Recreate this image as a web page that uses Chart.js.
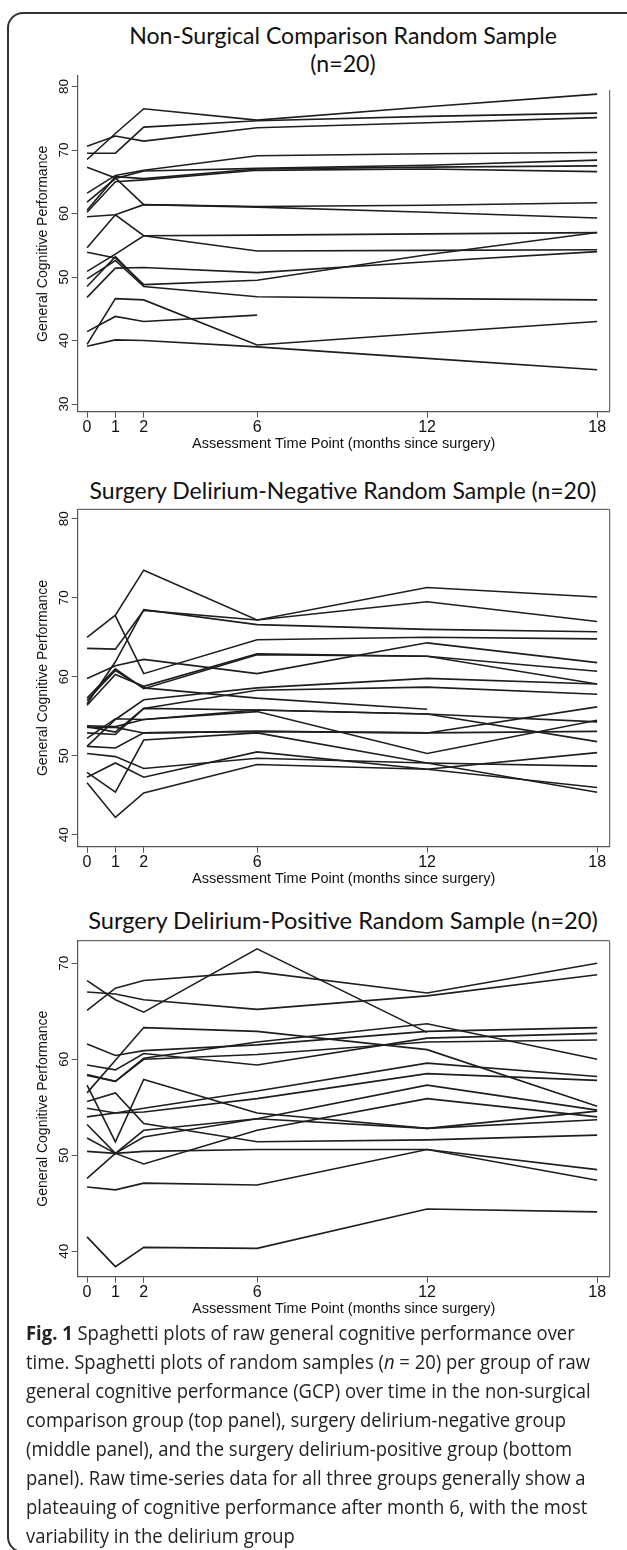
<!DOCTYPE html>
<html><head><meta charset="utf-8">
<script src="https://cdn.jsdelivr.net/npm/chart.js@4.4.1/dist/chart.umd.min.js"></script>
<style>
html,body{margin:0;padding:0;background:#fff;}
body{width:627px;height:1550px;position:relative;overflow:hidden;font-family:"Liberation Sans",Arial,sans-serif;}
.frame{position:absolute;left:7px;top:12px;width:680px;height:1541px;border:2px solid #333;border-radius:16px;box-sizing:border-box;}
.ptitle{position:absolute;left:0;width:686px;text-align:center;font-family:Lato,"Open Sans",sans-serif;font-size:22px;color:#111;line-height:28px;white-space:nowrap;}
.ptitle span{display:inline-block;}
canvas{position:absolute;left:0;}
.cap{position:absolute;left:26px;font-family:"Open Sans",sans-serif;font-size:19.5px;color:#222;white-space:nowrap;transform-origin:0 50%;line-height:29px;}
</style></head>
<body>
<div class="frame"></div>
<div class="ptitle" id="t1a" style="top:21px;"><span>Non-Surgical Comparison Random Sample</span></div>
<div class="ptitle" id="t1b" style="top:49px;"><span>(n=20)</span></div>
<div class="ptitle" id="t2" style="top:476px;"><span>Surgery Delirium-Negative Random Sample (n=20)</span></div>
<div class="ptitle" id="t3" style="top:906px;"><span>Surgery Delirium-Positive Random Sample (n=20)</span></div>
<canvas id="c1" width="627" height="390" style="top:70px"></canvas>
<canvas id="c2" width="627" height="390" style="top:500px"></canvas>
<canvas id="c3" width="627" height="390" style="top:930px"></canvas>
<div class="cap" style="top:1318px"><b>Fig. 1</b> Spaghetti plots of raw general cognitive performance over</div>
<div class="cap" style="top:1347px">time. Spaghetti plots of random samples (<i>n</i> = 20) per group of raw</div>
<div class="cap" style="top:1376px">general cognitive performance (GCP) over time in the non-surgical</div>
<div class="cap" style="top:1405px">comparison group (top panel), surgery delirium-negative group</div>
<div class="cap" style="top:1434px">(middle panel), and the surgery delirium-positive group (bottom</div>
<div class="cap" style="top:1463px">panel). Raw time-series data for all three groups generally show a</div>
<div class="cap" style="top:1492px">plateauing of cognitive performance after month 6, with the most</div>
<div class="cap" style="top:1521px">variability in the delirium group</div>
<script>
// ---- data ----
const timePoints = [0, 1, 2, 6, 12, 18];
const xTickValues = [0, 1, 2, 6, 12, 18];
const yTicksTop = [30, 40, 50, 60, 70, 80];
const yTicksMiddle = [40, 50, 60, 70, 80];
const yTicksBottom = [40, 50, 60, 70];
const yAxisTitle = 'General Cognitive Performance';
const xAxisTitle = 'Assessment Time Point (months since surgery)';

const nonSurgicalGCP = [
  [68.5, 72.6, 76.5, 74.7, 76.8, 78.8],
  [69.5, 69.5, 73.6, 74.6, 75.3, 75.8],
  [70.6, 72.2, 71.4, 73.5, 74.3, 75.1],
  [63.2, 66.0, 66.8, 69.1, 69.4, 69.6],
  [61.8, 65.5, 66.7, 67.1, 67.6, 68.4],
  [60.5, 65.8, 65.5, 67.0, 67.3, 67.5],
  [60.2, 65.0, 65.3, 66.8, 67.0, 66.6],
  [67.3, 65.6, 61.4, 61.1, 61.3, 61.7],
  [59.5, 59.8, 61.4, 61.0, 60.2, 59.3],
  [54.6, 59.8, 56.5, 54.1, 54.2, 54.3],
  [50.9, 53.6, 56.5, 56.6, 56.8, 57.0],
  [46.8, 51.4, 51.5, 50.7, 52.4, 54.0],
  [53.9, 53.0, 48.8, 49.5, 53.5, 57.0],
  [49.7, 52.6, 48.5, 46.9, 46.6, 46.4],
  [48.5, 53.2, 48.7, null, null, null],
  [41.4, 43.8, 43.0, 44.0, null, null],
  [39.4, 46.6, 46.4, 39.3, 41.2, 43.0],
  [39.1, 40.1, 40.0, 39.0, 37.2, 35.4]
];
const deliriumNegativeGCP = [
  [65.0, 67.8, 73.5, 67.2, 71.3, 70.1],
  [63.6, 63.5, 68.4, 67.2, 69.5, 67.0],
  [56.6, 61.9, 68.5, 66.6, 66.0, 65.7],
  [null, 67.7, 60.4, 64.7, 65.0, 64.8],
  [59.8, 61.4, 62.2, 60.4, 64.3, 61.8],
  [56.4, 60.3, 58.8, 62.9, 62.6, 59.1],
  [57.3, 61.0, 58.5, 62.8, 62.6, 60.7],
  [51.2, 54.6, 57.1, 58.6, 59.8, 59.1],
  [52.9, 52.7, 56.0, 58.3, 58.7, 57.8],
  [57.0, 60.8, 58.6, 57.3, 55.9, null],
  [53.8, 53.7, 54.6, 55.8, 55.3, 54.3],
  [52.2, 54.7, 54.6, 55.6, 50.3, 54.5],
  [53.6, 53.6, 52.9, 53.1, 52.9, 56.2],
  [50.3, 49.9, 48.4, 49.7, 49.1, 48.7],
  [47.9, 45.4, 52.0, 52.9, 49.1, 45.4],
  [47.3, 49.1, 47.3, 50.5, 48.3, 46.0],
  [46.6, 42.2, 45.3, 48.9, 48.3, 50.4],
  [51.2, 51.0, 52.9, 53.1, 52.9, 53.1],
  [53.7, 53.0, 56.0, 55.8, 55.3, 51.8]
];
const deliriumPositiveGCP = [
  [65.1, 67.4, 68.2, 69.1, 66.9, 70.0],
  [68.2, 66.2, 64.9, 71.5, 62.8, null],
  [67.0, 66.8, 66.2, 65.2, 66.6, 68.8],
  [56.5, 59.9, 63.3, 62.9, 61.0, 55.1],
  [61.6, 60.4, 60.9, 61.5, 62.9, 63.3],
  [59.4, 58.9, 60.6, 59.4, 62.2, 62.7],
  [58.4, 57.7, 60.1, 61.8, 63.7, 60.0],
  [58.3, 57.7, 60.0, 60.5, 61.8, 62.0],
  [57.3, 51.4, 57.9, 54.4, 52.8, 54.6],
  [55.6, 56.5, 53.3, 51.4, 51.6, 52.1],
  [54.9, 54.4, 54.9, 56.7, 59.6, 58.2],
  [54.0, 54.4, 54.5, 55.9, 58.5, 57.8],
  [51.8, 50.2, 51.9, 53.8, 57.3, 54.7],
  [50.4, 50.2, 50.4, 50.6, 50.6, 47.4],
  [47.6, 50.2, 49.1, 52.6, 55.9, 54.0],
  [46.7, 46.4, 47.1, 46.9, 50.6, 48.5],
  [41.5, 38.4, 40.4, 40.3, 44.4, 44.1],
  [53.2, 50.2, 52.6, 53.8, 52.8, 53.7]
];

// ---- layout (presentation only) ----
const panels = [
  {id:'c1', series:nonSurgicalGCP, yTicks:yTicksTop, padTop:6, axisH:48.3, yMin:28.8, yMax:81.65, rightFrom:14, topBorder:false},
  {id:'c2', series:deliriumNegativeGCP, yTicks:yTicksMiddle, padTop:9.3, axisH:43.3, yMin:38.5, yMax:81.2, rightFrom:0, topBorder:true},
  {id:'c3', series:deliriumPositiveGCP, yTicks:yTicksBottom, padTop:10.7, axisH:43.3, yMin:37.35, yMax:72.35, rightFrom:0, topBorder:true}
];

const framePlugin = {
  id: 'stataFrame',
  afterDraw(chart, args, o) {
    const {ctx, chartArea: ca, scales} = chart;
    const y = scales.y;
    ctx.save();
    ctx.strokeStyle = '#6a6a6a';
    ctx.lineWidth = 1.2;
    ctx.beginPath();
    ctx.moveTo(ca.right, ca.top + o.rightFrom);
    ctx.lineTo(ca.right, ca.bottom);
    if (o.topBorder) { ctx.moveTo(ca.left, ca.top); ctx.lineTo(ca.right, ca.top); }
    ctx.stroke();
    ctx.fillStyle = '#111';
    ctx.textAlign = 'center';
    ctx.textBaseline = 'middle';
    ctx.font = '13.5px "Liberation Sans", Arial, sans-serif';
    y.ticks.forEach(t => {
      const py = y.getPixelForValue(t.value);
      ctx.save(); ctx.translate(64, py); ctx.rotate(-Math.PI / 2);
      ctx.fillText(String(t.value), 0, 0); ctx.restore();
    });
    ctx.font = '14px "Liberation Sans", Arial, sans-serif';
    ctx.save(); ctx.translate(43, (ca.top + ca.bottom) / 2); ctx.rotate(-Math.PI / 2);
    ctx.fillText(yAxisTitle, 0, 0); ctx.restore();
    ctx.font = '14.5px "Liberation Sans", Arial, sans-serif';
    ctx.fillText(xAxisTitle, (ca.left + ca.right) / 2, ca.bottom + 32);
    ctx.restore();
  }
};

panels.forEach(p => {
  new Chart(document.getElementById(p.id), {
    type: 'line',
    data: {
      datasets: p.series.map(s => ({
        data: s.map((v, i) => ({x: timePoints[i], y: v})),
        borderColor: '#1e1e1e',
        borderWidth: 1.6,
        pointRadius: 0,
        fill: false,
        tension: 0,
        spanGaps: false
      }))
    },
    options: {
      responsive: false,
      animation: false,
      events: [],
      layout: {padding: {left: 0, right: 17.4, top: p.padTop, bottom: 0}},
      plugins: {legend: {display: false}, tooltip: {enabled: false}, title: {display: false},
                stataFrame: {rightFrom: p.rightFrom, topBorder: p.topBorder}},
      scales: {
        x: {
          type: 'linear', min: -0.33, max: 18.44,
          afterBuildTicks: s => { s.ticks = xTickValues.map(v => ({value: v})); },
          afterFit: s => { s.height = p.axisH; },
          grid: {drawOnChartArea: false, drawTicks: true, tickLength: 6, color: '#555', tickWidth: 1},
          border: {display: true, color: '#555', width: 1.2},
          ticks: {font: {family: '"Liberation Sans", Arial, sans-serif', size: 16}, color: '#111', padding: 0, maxRotation: 0, autoSkip: false}
        },
        y: {
          type: 'linear', min: p.yMin, max: p.yMax,
          afterBuildTicks: s => { s.ticks = p.yTicks.map(v => ({value: v})); },
          afterFit: s => { s.width = 77.7; },
          grid: {drawOnChartArea: false, drawTicks: true, tickLength: 6, color: '#555', tickWidth: 1},
          border: {display: true, color: '#555', width: 1.2},
          ticks: {display: false}
        }
      }
    },
    plugins: [framePlugin]
  });
});

// fit caption and titles widths to the reference proportions
function fitText() {
  const caps = document.querySelectorAll('.cap');
  const w = caps[1].getBoundingClientRect().width;
  const k = 564 / w;
  caps.forEach(c => { c.style.transform = 'scaleX(' + k + ')'; });
  const targets = {t1a: 428, t2: 507, t3: 510};
  let ratio = 1;
  ['t1a', 't2', 't3'].forEach(id => {
    const sp = document.querySelector('#' + id + ' span');
    const r = targets[id] / sp.getBoundingClientRect().width;
    sp.parentNode.style.fontSize = (22 * r) + 'px';
    if (id === 't1a') ratio = r;
  });
  document.getElementById('t1b').style.fontSize = (22 * ratio) + 'px';
}
fitText();
</script>
</body></html>
